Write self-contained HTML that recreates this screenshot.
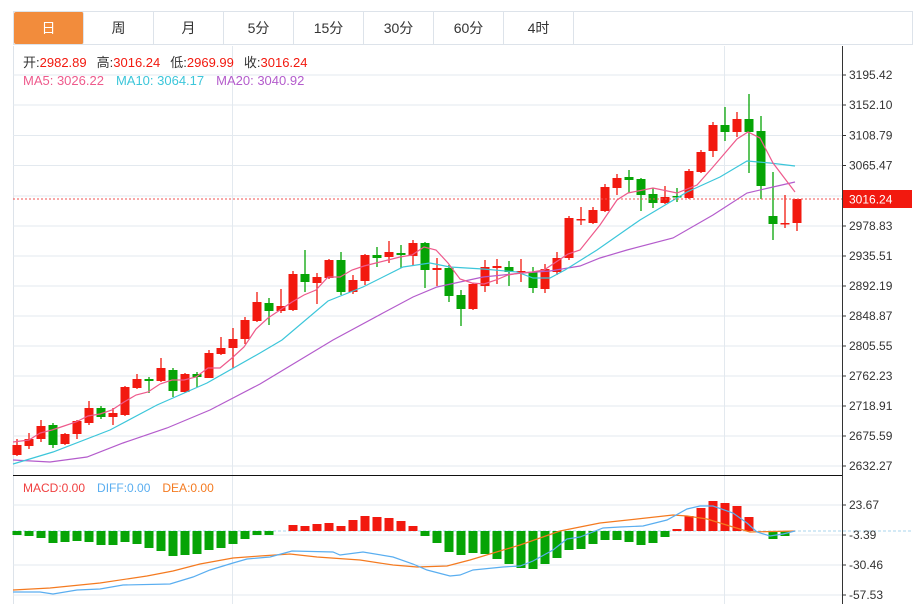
<!DOCTYPE html>
<html><head><meta charset="utf-8">
<style>
html,body{margin:0;padding:0;background:#fff;width:920px;height:604px;overflow:hidden;font-family:"Liberation Sans","Noto Sans CJK SC",sans-serif;}
#tabs{position:absolute;left:13px;top:11px;height:34px;width:900px;border:1px solid #dde3ea;box-sizing:border-box;display:flex;}
#tabs div{width:70px;height:100%;border-right:1px solid #dde3ea;box-sizing:border-box;text-align:center;line-height:33px;font-size:14px;color:#333;}
#tabs div.on{background:#f28c3c;color:#fff;border-radius:2px;}
svg{position:absolute;left:0;top:0;}
</style></head><body>
<svg id="s" width="920" height="604" xmlns="http://www.w3.org/2000/svg" font-family="Liberation Sans, Noto Sans CJK SC, sans-serif"></svg>
<div id="tabs"><div class="on">日</div><div>周</div><div>月</div><div>5分</div><div>15分</div><div>30分</div><div>60分</div><div>4时</div></div>
<script>
var s=document.getElementById('s'),h='';
var R='#f2190f',G='#06a406';
// grid
h+='<line x1="13.5" y1="46" x2="13.5" y2="604" stroke="#dde3ea"/>';
[75,105,135.5,165.5,196,226,256,286,316,346,376,406,436,466].forEach(function(y){h+='<line x1="13" y1="'+y+'" x2="842" y2="'+y+'" stroke="#e3e9ef"/>';});
[505,535,565,595].forEach(function(y){h+='<line x1="13" y1="'+y+'" x2="842" y2="'+y+'" stroke="#e3e9ef"/>';});
[232.5,724.5].forEach(function(x){h+='<line x1="'+x+'" y1="46" x2="'+x+'" y2="604" stroke="#e3e9ef"/>';});
h+='<line x1="13" y1="475.5" x2="842" y2="475.5" stroke="#111"/>';
h+='<line x1="842.5" y1="46" x2="842.5" y2="604" stroke="#333"/>';
h+='<line x1="13" y1="531" x2="912" y2="531" stroke="#a8d4ec" stroke-dasharray="3,2"/>';
// labels
var L=[[75,'3195.42'],[105,'3152.10'],[135.5,'3108.79'],[165.5,'3065.47'],[226,'2978.83'],[256,'2935.51'],[286,'2892.19'],[316,'2848.87'],[346,'2805.55'],[376,'2762.23'],[406,'2718.91'],[436,'2675.59'],[466,'2632.27'],[505,'23.67'],[535,'-3.39'],[565,'-30.46'],[595,'-57.53']];
L.forEach(function(l){h+='<line x1="842" y1="'+l[0]+'" x2="846" y2="'+l[0]+'" stroke="#333"/><text x="849" y="'+(l[0]+4)+'" font-size="12" fill="#333">'+l[1]+'</text>';});
// candles [o,c,h,l] in pixel y
var C=[[455,445,439,456],[446,439,433,449],[439,426,420,442],[425,445,423,448],[444,434,433,445],[434,421,420,439],[423,408,401,425],[408,417,406,419],[417,413,408,425],[415,387,386,416],[388,379,374,389],[379,381,377,393],[381,368,358,382],[370,391,368,397],[392,374,373,393],[374,377,372,387],[378,353,350,378],[354,348,337,355],[348,339,328,368],[339,320,317,344],[321,302,292,322],[303,311,298,325],[311,306,289,313],[310,274,271,311],[274,282,250,292],[283,277,273,304],[278,260,259,279],[260,292,252,295],[292,280,275,294],[281,255,254,285],[255,258,247,267],[257,252,241,263],[253,255,245,268],[256,243,240,265],[243,270,242,288],[270,268,258,286],[268,296,265,302],[295,309,290,326],[309,284,283,310],[286,267,260,292],[268,266,259,284],[267,272,261,286],[272,271,259,282],[272,288,267,293],[289,269,264,293],[272,258,252,275],[258,218,216,260],[219,219,207,225],[223,210,207,224],[211,187,184,212],[188,178,174,195],[177,180,170,193],[179,195,178,211],[194,203,188,208],[203,197,186,204],[196,197,188,202],[198,171,169,199],[172,152,150,173],[151,125,122,157],[125,132,107,141],[132,119,112,137],[119,132,94,173],[131,186,116,199],[216,224,172,240],[223,223,195,228],[223,199,199,231]];
C.forEach(function(c,i){var x=17+12*i,o=c[0],cl=c[1],up=cl<=o,col=up?R:G;if(i==55)col=G;if(i==64||i==47)col=R;
var t=Math.min(o,cl),b=Math.max(o,cl);if(b-t<1.5){b=t+1.5;}
h+='<line x1="'+x+'" y1="'+c[2]+'" x2="'+x+'" y2="'+c[3]+'" stroke="'+col+'" stroke-width="1.3"/>';
h+='<rect x="'+(x-4.5)+'" y="'+t+'" width="9" height="'+(b-t)+'" fill="'+col+'"/>';});
function pl(p,c,w){return '<polyline fill="none" stroke="'+c+'" stroke-width="'+(w||1.2)+'" points="'+p+'"/>';}
h+=pl('13,460 50,462 87,457 123,443 167,428 210,410 260,384 333,340 383,313 413,297 437,287 483,277 523,273 550,271 580,266 600,258 627,250 673,238 713,215 747,193 773,187 795,182','#b45ccc');
h+=pl('13,464 53,452 110,430 157,405 207,383 260,353 282,340 328,301 363,287 403,267 430,263 450,267 483,269 517,272 533,278 550,278 565,270 597,250 640,220 687,192 720,177 747,161 770,163 795,166','#3cc6da');
h+=pl('13,442 29,440 40,433 52,430 64,426 76,422 88,416 100,414 112,410 124,402 136,395 148,392 160,384 172,380 184,380 196,377 208,368 220,368 232,358 244,347 256,329 268,318 280,310 292,302 304,295 316,290 328,277 340,277 352,270 364,266 376,263 388,260 400,257 412,255 424,247 436,250 448,263 460,279 472,283 484,284 496,280 508,275 520,273 532,272 544,270 556,262 568,254 580,250 600,225 617,200 628,193 653,188 677,193 697,185 713,167 737,139 748,132 760,138 773,163 795,192','#ee5a8c');
// current price
h+='<line x1="13" y1="199" x2="842" y2="199" stroke="#f05050" stroke-dasharray="2,2"/>';
h+='<rect x="843" y="190" width="69" height="18" fill="'+R+'"/><text x="849" y="203.5" font-size="12" fill="#fff">3016.24</text>';
// macd bars
var M=[535,536,538,543,542,541,542,545,545,542,544,548,551,556,555,554,550,548,544,539,535,535,531,525,526,524,523,526,520,516,517,518,521,526,536,543,552,555,553,554,559,564,568,569,564,558,550,549,544,540,540,542,545,543,537,529,516,508,501,503,506,517,531,539,536,531];
M.forEach(function(y,i){var x=17+12*i;if(Math.abs(y-531)<0.5)return;var col=y<531?R:G;h+='<rect x="'+(x-4.5)+'" y="'+Math.min(y,531)+'" width="9" height="'+Math.abs(y-531)+'" fill="'+col+'"/>';});
h+=pl('13,590 50,588 100,583 147,576 173,571 200,564 233,558 260,556 290,554 317,557 360,560 393,565 417,567 447,566 470,560 520,545 560,531 600,523 637,519 673,515 687,516 707,519 733,527 750,532 795,531','#f47a20');
h+=pl('13,592 40,592 53,594 77,590 100,589 123,585 170,584 193,577 210,570 233,563 247,559 270,557 292,551 333,552 340,555 363,552 393,557 413,564 427,570 450,576 460,575 473,570 503,567 520,566 533,561 553,550 567,539 580,537 603,528 620,527 643,526 667,520 687,509 700,506 713,506 733,513 747,523 757,532 770,536 783,534 795,531','#5aaef0');
// legends
h+='<text x="23" y="67" font-size="13"><tspan fill="#333">开:</tspan><tspan fill="'+R+'">2982.89</tspan><tspan fill="#333" dx="10">高:</tspan><tspan fill="'+R+'">3016.24</tspan><tspan fill="#333" dx="10">低:</tspan><tspan fill="'+R+'">2969.99</tspan><tspan fill="#333" dx="10">收:</tspan><tspan fill="'+R+'">3016.24</tspan></text>';
h+='<text x="23" y="85" font-size="13"><tspan fill="#ee5a8c">MA5: 3026.22</tspan><tspan fill="#3cc6da" dx="12">MA10: 3064.17</tspan><tspan fill="#b45ccc" dx="12">MA20: 3040.92</tspan></text>';
h+='<text x="23" y="492" font-size="12"><tspan fill="#f04040">MACD:0.00</tspan><tspan fill="#5aaef0" dx="12">DIFF:0.00</tspan><tspan fill="#f47a20" dx="12">DEA:0.00</tspan></text>';
s.innerHTML=h;
</script>
</body></html>
